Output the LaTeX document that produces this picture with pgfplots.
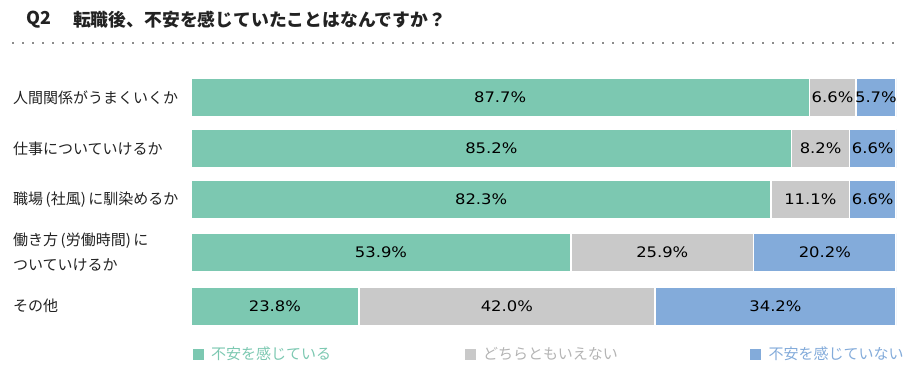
\documentclass[border=0pt]{standalone}
\usepackage{pgfplots}
\pgfplotsset{compat=1.18}
\usepackage{fontspec}
\setmainfont{Noto Sans CJK JP}
\newfontfamily\numfont{DejaVu Sans}[FakeStretch=1.13]
\definecolor{cgreen}{RGB}{124,200,177}
\definecolor{cgray}{RGB}{201,201,201}
\definecolor{cblue}{RGB}{131,171,218}
\definecolor{cgraytext}{RGB}{180,180,180}
\definecolor{ctext}{RGB}{34,34,34}
\definecolor{cdot}{RGB}{140,140,140}
\pgfplotsset{sq/.style={legend image code/.code={\fill[##1] (0bp,-6.3bp) rectangle (12.5bp,6.3bp);}}}
\begin{document}
\begin{tikzpicture}
\path[use as bounding box] (0,0) rectangle (905bp,-368bp);
\node[anchor=west, inner sep=0, font=\fontsize{17.8bp}{20bp}\selectfont\bfseries, text=ctext] at (26bp,-20bp) {Q2};
\node[anchor=west, inner sep=0, font=\fontsize{17.8bp}{20bp}\selectfont\bfseries, text=ctext] at (73bp,-20bp) {転職後、不安を感じていたことはなんですか？};
\draw[cdot, line width=2bp, dash pattern=on 2bp off 8bp] (12bp,-43bp) -- (895bp,-43bp);

\begin{axis}[
  at={(191bp,-71bp)}, anchor=north west,
  scale only axis, width=705bp, height=261bp,
  xmin=0, xmax=100, ymin=71, ymax=332, y dir=reverse,
  xbar stacked, bar width=38.5bp,
  axis line style={draw=none}, major tick length=0, xtick=\empty,
  ytick={97.5,148.5,199.5,252.5,306},
  yticklabels={人間関係がうまくいくか, 仕事についていけるか, 職場\,(社風)\,に馴染めるか, {働き方\,(労働時間)\,に\\ついていけるか}, その他},
  yticklabel style={anchor=west, xshift=-178bp, inner sep=0, align=left, text=ctext, font=\fontsize{15bp}{25bp}\selectfont},
  legend columns=3,
  legend style={at={(0,0)}, anchor=north west, yshift=-15bp, draw=none, fill=none, inner sep=0,
    nodes={inner sep=0}, /tikz/every odd column/.append style={column sep=6bp},
    font=\fontsize{15bp}{16bp}\selectfont},
  legend cell align=left,
]
\addplot[sq, fill=cgreen, draw=white, line width=1.5bp] coordinates {(87.7,97.5) (85.2,148.5) (82.3,199.5) (53.9,252.5) (23.8,306)};
\addlegendentry{\makebox[252bp][l]{\textcolor{cgreen}{不安を感じている}}}
\addplot[sq, fill=cgray, draw=white, line width=1.5bp] coordinates {(6.6,97.5) (8.2,148.5) (11.1,199.5) (25.9,252.5) (42.0,306)};
\addlegendentry{\makebox[265.5bp][l]{\textcolor{cgraytext}{どちらともいえない}}}
\addplot[sq, fill=cblue, draw=white, line width=1.5bp] coordinates {(5.7,97.5) (6.6,148.5) (6.6,199.5) (20.2,252.5) (34.2,306)};
\addlegendentry{\textcolor{cblue}{不安を感じていない}}
\end{axis}

\begin{axis}[
  at={(191bp,-71bp)}, anchor=north west,
  scale only axis, width=705bp, height=261bp,
  xmin=0, xmax=100, ymin=71, ymax=332, y dir=reverse,
  hide axis,
]
\addplot[draw=none, mark=none, nodes near coords={\pgfplotspointmeta\%}, point meta=explicit symbolic,
  every node near coord/.append style={anchor=center, inner sep=0, text=black, font=\numfont\fontsize{14.5bp}{16bp}\selectfont}]
  table[meta=lab] {
x y lab
43.85 97.5 87.7
91.0 97.5 6.6
97.15 97.5 5.7
42.6 148.5 85.2
89.3 148.5 8.2
96.7 148.5 6.6
41.15 199.5 82.3
87.85 199.5 11.1
96.7 199.5 6.6
26.95 252.5 53.9
66.85 252.5 25.9
89.9 252.5 20.2
11.9 306 23.8
44.8 306 42.0
82.9 306 34.2
};
\end{axis}
\end{tikzpicture}
\end{document}
